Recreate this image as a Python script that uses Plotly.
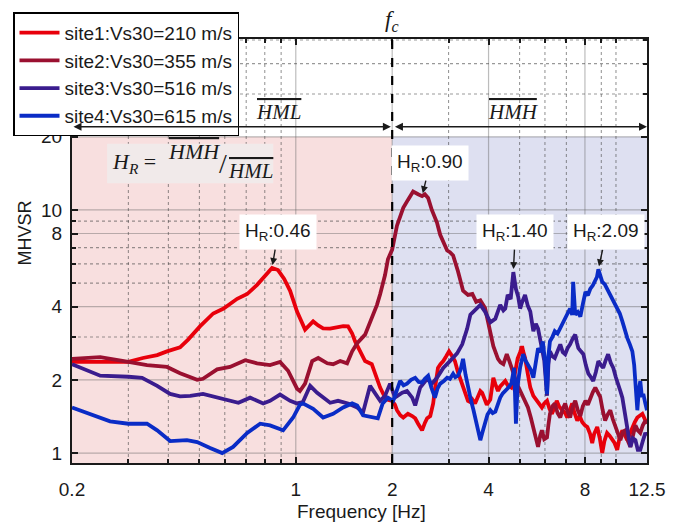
import math
import plotly.graph_objects as go

# Mean H/V spectral ratio curves for four stations
site_names = ["site1:Vs30=210 m/s", "site2:Vs30=355 m/s",
              "site3:Vs30=516 m/s", "site4:Vs30=615 m/s"]
site_colors = ["#E8000B", "#9A1030", "#3A1C8E", "#0A2CC6"]

freq1 = [0.2, 0.245, 0.3, 0.333, 0.369, 0.396, 0.435, 0.461, 0.502, 0.552, 0.595, 0.656,
         0.705, 0.757, 0.813, 0.843, 0.88, 0.92, 0.96, 1.009, 1.069, 1.133, 1.175, 1.217,
         1.28, 1.346, 1.406, 1.456, 1.50, 1.532, 1.59, 1.646, 1.727, 1.78, 1.834, 1.88,
         1.93, 2.0, 2.04, 2.07, 2.12, 2.166, 2.24, 2.31, 2.36, 2.41, 2.48, 2.53, 2.572,
         2.63, 2.686, 2.73, 2.78, 2.83, 2.888, 2.95, 3.01, 3.08, 3.14, 3.21, 3.31, 3.38,
         3.45, 3.51, 3.56, 3.63, 3.70, 3.77, 3.82, 3.90, 3.95, 4.05, 4.10, 4.14, 4.20,
         4.28, 4.35, 4.45, 4.51, 4.59, 4.71, 4.81, 4.87, 4.93, 5.02, 5.09, 5.13, 5.20,
         5.31, 5.40, 5.52, 5.67, 5.78, 5.87, 5.97, 6.09, 6.20, 6.31, 6.44, 6.53, 6.65,
         6.80, 6.94, 7.04, 7.15, 7.30, 7.40, 7.57, 7.70, 7.85, 8.0, 8.14, 8.30, 8.43,
         8.55, 8.74, 8.90, 9.06, 9.20, 9.38, 9.55, 9.74, 9.90, 10.09, 10.25, 10.47,
         10.65, 10.85, 11.05, 11.25, 11.45, 11.66, 11.85, 12.09, 12.3, 12.5]
hv1 = [2.37, 2.36, 2.37, 2.46, 2.53, 2.62, 2.72, 2.93, 3.32, 3.75, 3.93, 4.31,
       4.51, 4.92, 5.45, 5.77, 5.66, 5.2, 4.65, 3.82, 3.22, 3.48, 3.35, 3.26,
       3.25, 3.28, 3.33, 3.32, 3.1, 2.88, 2.6, 2.39, 2.32, 2.05, 1.86, 1.74,
       1.66, 1.64, 1.58, 1.50, 1.43, 1.40, 1.45, 1.42, 1.39, 1.32, 1.24, 1.33, 1.39,
       1.42, 1.60, 1.9, 2.24, 2.32, 2.39, 2.5, 2.62, 2.5, 2.39, 2.15, 1.93, 1.75,
       1.64, 1.62, 1.66, 1.60, 1.7, 1.8, 1.77, 1.62, 1.58, 1.66, 1.9, 2.04, 1.92,
       1.80, 1.88, 1.95, 1.98, 1.9, 1.86, 2.05, 2.24, 2.45, 2.6, 2.75, 2.62, 2.46,
       2.1, 1.86, 1.72, 1.64, 1.58, 1.54, 1.6, 1.64, 1.52, 1.45, 1.55, 1.64, 1.55,
       1.50, 1.46, 1.40, 1.5, 1.60, 1.48, 1.36, 1.42, 1.34, 1.3, 1.28, 1.2, 1.1,
       1.2, 1.28, 1.15, 1.0, 1.12, 1.21, 1.18, 1.13, 1.1, 1.03, 1.15, 1.24,
       1.18, 1.13, 1.2, 1.28, 1.34, 1.40, 1.43, 1.45, 1.38, 1.34]

freq2 = [0.2, 0.245, 0.3, 0.343, 0.396, 0.435, 0.492, 0.513, 0.568, 0.623, 0.695, 0.757,
         0.831, 0.893, 0.946, 1.009, 1.03, 1.069, 1.125, 1.175, 1.254, 1.308, 1.376,
         1.446, 1.50, 1.555, 1.646, 1.727, 1.793, 1.834, 1.90, 1.94, 2.0, 2.07, 2.118,
         2.166, 2.24, 2.325, 2.41, 2.48, 2.53, 2.59, 2.66, 2.76, 2.825, 2.97, 3.03,
         3.10, 3.21, 3.33, 3.45, 3.56, 3.66, 3.77, 3.90, 3.98, 4.05, 4.14, 4.28, 4.36,
         4.45, 4.56, 4.64, 4.71, 4.80, 4.90, 5.02, 5.13, 5.22, 5.31, 5.42, 5.52, 5.62,
         5.71, 5.80, 5.87, 5.97, 6.09, 6.15, 6.22, 6.33, 6.44, 6.57, 6.70, 6.82, 6.94,
         7.06, 7.19, 7.32, 7.46, 7.60, 7.74, 7.88, 8.03, 8.17, 8.31, 8.47, 8.62, 8.77,
         8.93, 9.09, 9.25, 9.42, 9.60, 9.77, 9.95, 10.13, 10.32, 10.51, 10.70, 10.90,
         11.09, 11.30, 11.50, 11.70, 11.91, 12.13, 12.35, 12.5]
hv2 = [2.44, 2.48, 2.37, 2.30, 2.26, 2.13, 2.0, 2.02, 2.21, 2.26, 2.41, 2.34,
       2.30, 2.37, 2.18, 1.84, 1.80, 1.93, 2.39, 2.46, 2.34, 2.32, 2.39,
       2.34, 2.62, 2.83, 3.07, 3.57, 4.07, 4.5, 5.4, 6.27, 6.87, 8.62, 9.4,
       10.2, 11.0, 11.9, 11.6, 11.4, 11.6, 11.2, 10.0, 8.87, 7.9, 6.81, 6.7,
       6.5, 5.6, 4.65, 4.47, 4.51, 4.19, 4.25, 3.95, 3.5, 3.2, 2.75, 2.44, 2.36,
       2.32, 2.55, 2.40, 2.28, 2.10, 1.93, 1.80, 1.69, 1.62, 1.54, 1.40, 1.28, 1.15,
       1.06, 1.18, 1.24, 1.14, 1.16, 1.30, 1.45, 1.56, 1.60, 1.46, 1.40, 1.52, 1.60,
       1.48, 1.40, 1.55, 1.64, 1.50, 1.42, 1.56, 1.64, 1.58, 1.69, 1.78, 1.86, 1.76,
       1.70, 1.50, 1.36, 1.44, 1.50, 1.38, 1.28, 1.20, 1.13, 1.22, 1.24, 1.12,
       1.06, 1.18, 1.30, 1.24, 1.21, 1.30, 1.36, 1.32]

freq3 = [0.2, 0.245, 0.3, 0.331, 0.369, 0.405, 0.435, 0.468, 0.513, 0.568, 0.623, 0.662,
         0.72, 0.791, 0.831, 0.893, 0.96, 1.009, 1.052, 1.109, 1.166, 1.217, 1.28,
         1.355, 1.456, 1.555, 1.622, 1.706, 1.77, 1.834, 1.90, 1.97, 2.04, 2.15, 2.225,
         2.31, 2.36, 2.446, 2.572, 2.66, 2.76, 2.888, 3.03, 3.19, 3.31, 3.43, 3.51,
         3.63, 3.77, 3.90, 4.05, 4.20, 4.35, 4.45, 4.51, 4.59, 4.69, 4.78, 4.87, 4.95,
         5.02, 5.10, 5.20, 5.30, 5.40, 5.52, 5.62, 5.71, 5.80, 5.87, 5.97, 6.09, 6.15,
         6.22, 6.33, 6.44, 6.57, 6.70, 6.82, 6.94, 7.06, 7.19, 7.32, 7.46, 7.55, 7.63,
         7.77, 7.91, 8.05, 8.20, 8.35, 8.49, 8.65, 8.81, 8.97, 9.12, 9.28, 9.45, 9.63,
         9.81, 9.99, 10.17, 10.32, 10.47, 10.66, 10.85, 11.09, 11.30, 11.50, 11.70,
         11.91, 12.13, 12.35, 12.5]
hv3 = [2.32, 2.08, 2.06, 2.04, 1.89, 1.75, 1.71, 1.72, 1.75, 1.69, 1.64, 1.61,
       1.69, 1.60, 1.64, 1.74, 1.64, 1.60, 1.62, 1.89, 1.77, 1.69, 1.61,
       1.64, 1.60, 1.54, 1.47, 1.89, 1.77, 1.64, 1.72, 1.93, 1.69, 1.77, 1.80,
       1.69, 1.57, 1.86, 2.02, 1.93, 2.04, 2.24, 2.39, 2.57, 2.80, 3.25, 3.71,
       3.89, 4.07, 3.82, 3.45, 3.57, 4.07, 3.86, 3.93, 4.47, 4.30, 5.55, 4.73, 4.40,
       3.93, 4.20, 4.47, 4.05, 3.82, 3.17, 3.40, 3.25, 2.90, 2.62, 2.40, 1.72, 2.30,
       2.62, 2.50, 2.46, 2.66, 2.80, 2.60, 2.55, 2.70, 2.80, 2.95, 3.07, 2.85, 2.70,
       2.62, 2.55, 2.30, 2.12, 2.05, 1.98, 2.15, 2.39, 2.30, 2.24, 2.40, 2.55, 2.35,
       2.24, 2.05, 1.93, 1.80, 1.69, 1.45, 1.28, 1.06, 1.15, 1.13, 1.03,
       1.03, 1.12, 1.21, 1.18]

freq4 = [0.2, 0.228, 0.263, 0.30, 0.343, 0.369, 0.405, 0.457, 0.492, 0.540, 0.589,
         0.637, 0.705, 0.774, 0.831, 0.913, 0.981, 1.03, 1.052, 1.133, 1.217, 1.308,
         1.406, 1.50, 1.555, 1.622, 1.727, 1.804, 1.868, 1.94, 2.014, 2.07, 2.118,
         2.17, 2.225, 2.29, 2.36, 2.42, 2.48, 2.53, 2.59, 2.65, 2.72, 2.77, 2.825,
         2.90, 2.97, 3.03, 3.10, 3.15, 3.21, 3.27, 3.33, 3.39, 3.45, 3.52, 3.59, 3.68,
         3.77, 3.83, 3.90, 3.97, 4.05, 4.12, 4.20, 4.27, 4.35, 4.43, 4.51, 4.60, 4.71,
         4.78, 4.81, 4.87, 4.93, 5.02, 5.13, 5.22, 5.31, 5.42, 5.52, 5.62, 5.71, 5.81,
         5.91, 6.00, 6.09, 6.15, 6.22, 6.33, 6.44, 6.57, 6.70, 6.82, 6.94, 7.06, 7.19,
         7.30, 7.35, 7.40, 7.46, 7.60, 7.74, 7.88, 8.03, 8.17, 8.31, 8.47, 8.62, 8.72,
         8.81, 8.93, 9.06, 9.22, 9.38, 9.56, 9.74, 9.90, 10.09, 10.28, 10.47, 10.66,
         10.85, 11.05, 11.25, 11.40, 11.50, 11.58, 11.66, 11.78, 11.91, 12.05, 12.17,
         12.35, 12.5]
hv4 = [1.54, 1.45, 1.35, 1.32, 1.32, 1.24, 1.12, 1.13, 1.11, 1.05, 1.0,
       1.06, 1.21, 1.32, 1.30, 1.24, 1.40, 1.58, 1.60, 1.52, 1.40, 1.45,
       1.54, 1.60, 1.57, 1.43, 1.40, 1.39, 1.60, 1.69, 1.64, 1.82, 1.98,
       1.90, 1.93, 2.00, 2.04, 1.96, 1.95, 2.02, 2.08, 1.86, 1.69, 1.84, 1.93,
       1.98, 2.04, 2.02, 2.12, 2.05, 2.08, 2.20, 2.44, 2.10, 1.86, 1.66, 1.50, 1.28,
       1.13, 1.22, 1.32, 1.44, 1.50, 1.46, 1.48, 1.60, 1.69, 1.76, 1.80, 1.85, 1.93,
       2.10, 2.24, 1.32, 1.90, 2.25, 2.55, 2.40, 2.32, 2.20, 2.04, 2.40, 2.70, 2.60,
       2.88, 2.40, 1.75, 2.50, 2.88, 3.00, 3.17, 3.10, 3.25, 3.40, 3.57, 3.75, 3.93,
       3.70, 5.06, 3.90, 3.71, 3.80, 3.64, 4.10, 4.60, 4.45, 4.73, 4.90, 5.20, 5.30,
       5.70, 5.30, 5.06, 4.95, 4.73, 4.55, 4.31, 4.10, 3.93, 3.75, 3.48, 3.20,
       2.97, 2.80, 2.62, 2.30, 1.98, 1.70, 1.50, 1.80, 1.98, 1.70, 1.75,
       1.60, 1.50]

site_freqs = [freq1, freq2, freq3, freq4]
site_hv = [hv1, hv2, hv3, hv4]

# Peak labels: (peak frequency, peak MHVSR, ratio text, box offset px)
peak_labels = [
    (0.843, 5.77, "0.46", 6, -36),
    (2.48, 11.4, "0.90", 8, -33),
    (4.78, 5.55, "1.40", 2, -40),
    (8.81, 5.70, "2.09", 8, -37),
]

f_min, f_max = 0.2, 12.5
f_c = 2.0
y_min, y_max = 0.91, 50.5
band_top = 20
x_ticks = [0.2, 1, 2, 4, 8, 12.5]
x_minor = [0.3, 0.4, 0.5, 0.6, 0.7, 0.8, 0.9, 3, 5, 6, 7, 9, 10]
y_ticks = [1, 2, 4, 8, 10, 20]
y_minor = [3, 5, 6, 7, 9, 30, 40, 50]

L = math.log10
font_sans = "Liberation Sans, Arial, sans-serif"
font_serif = "Liberation Serif, DejaVu Serif, serif"
ink = "#1a1a1a"

fig = go.Figure()


def grid_trace(xs, ys, color, dash, width):
    return go.Scatter(x=xs, y=ys, mode="lines", showlegend=False, hoverinfo="skip",
                      line=dict(color=color, width=width, dash=dash))


def vlines(vals):
    xs, ys = [], []
    for v in vals:
        xs += [v, v, None]
        ys += [y_min, y_max, None]
    return xs, ys


def hlines(vals):
    xs, ys = [], []
    for v in vals:
        xs += [f_min, f_max, None]
        ys += [v, v, None]
    return xs, ys


# grid (line traces so it sits over the band shading, under the curves)
major_col = "rgba(95,95,95,0.42)"
minor_col = "rgba(70,70,70,0.55)"
fig.add_trace(grid_trace(*vlines(x_ticks[1:-1]), major_col, "solid", 1.2))
fig.add_trace(grid_trace(*hlines(y_ticks), major_col, "solid", 1.2))
fig.add_trace(grid_trace(*vlines(x_minor), minor_col, "dot", 1.1))
fig.add_trace(grid_trace(*hlines(y_minor), minor_col, "dot", 1.1))

for name, col, fr, hv in zip(site_names, site_colors, site_freqs, site_hv):
    fig.add_trace(go.Scatter(x=fr, y=hv, mode="lines", name=name,
                             line=dict(color=col, width=3.8)))

# shaded low / high frequency bands
fig.add_shape(type="rect", xref="x", yref="y", x0=f_min, x1=f_c, y0=y_min, y1=band_top,
              fillcolor="rgb(248,223,223)", line_width=0, layer="below")
fig.add_shape(type="rect", xref="x", yref="y", x0=f_c, x1=f_max, y0=y_min, y1=band_top,
              fillcolor="rgb(222,224,241)", line_width=0, layer="below")
# formula backdrop
fig.add_shape(type="rect", xref="paper", yref="paper", x0=0.061, x1=0.350,
              y0=0.660, y1=0.753, fillcolor="rgb(241,234,234)", line_width=0, layer="above")
# corner-frequency divider
fig.add_shape(type="line", xref="x", yref="paper", x0=f_c, x1=f_c, y0=0, y1=1,
              line=dict(color="black", width=2.2, dash="dash"), layer="above")

ann = []
# band arrows
arrow_y = L(22)
ann.append(dict(x=L(f_c) - 0.004, y=arrow_y, ax=L(f_min), ay=arrow_y, xref="x", yref="y",
                axref="x", ayref="y", text="", showarrow=True, arrowhead=2, startarrowhead=2,
                arrowside="end+start", arrowsize=1, arrowwidth=1.6, arrowcolor=ink))
ann.append(dict(x=L(f_max), y=arrow_y, ax=L(f_c) + 0.004, ay=arrow_y, xref="x", yref="y",
                axref="x", ayref="y", text="", showarrow=True, arrowhead=2, startarrowhead=2,
                arrowside="end+start", arrowsize=1, arrowwidth=1.6, arrowcolor=ink))
ov = "<span style='text-decoration:overline'><i>{}</i></span>"
ann.append(dict(x=L(0.88), y=L(25.3), xref="x", yref="y", text=ov.format("HML"),
                yanchor="middle", showarrow=False,
                font=dict(family=font_serif, size=21, color=ink)))
ann.append(dict(x=L(4.78), y=L(25.3), xref="x", yref="y", text=ov.format("HMH"),
                yanchor="middle", showarrow=False,
                font=dict(family=font_serif, size=21, color=ink)))
ann.append(dict(x=L(f_c), y=1.042, xref="x", yref="paper", text="<i>f</i><sub><i>c</i></sub>",
                yanchor="middle", showarrow=False,
                font=dict(family=font_serif, size=23, color=ink)))

# formula H_R = HMH / HML
ann.append(dict(x=0.066, y=0.707, xref="paper", yref="paper", xanchor="left", yanchor="middle",
                text="<i>H</i><sub><i>R</i></sub> =", showarrow=False,
                font=dict(family=font_serif, size=22, color=ink)))
ann.append(dict(x=0.163, y=0.735, xref="paper", yref="paper", xanchor="left", yanchor="middle",
                text=ov.format("HMH"), showarrow=False,
                font=dict(family=font_serif, size=22, color=ink)))
ann.append(dict(x=0.253, y=0.707, xref="paper", yref="paper", xanchor="left", yanchor="middle",
                text="/", showarrow=False, font=dict(family=font_serif, size=28, color=ink)))
ann.append(dict(x=0.268, y=0.688, xref="paper", yref="paper", xanchor="left", yanchor="middle",
                text=ov.format("HML"), showarrow=False,
                font=dict(family=font_serif, size=21, color=ink)))

for fpk, vpk, txt, dx, dy in peak_labels:
    ann.append(dict(x=L(fpk), y=L(vpk), xref="x", yref="y",
                    text="H<sub>R</sub>:" + txt, showarrow=True, ax=dx, ay=dy,
                    arrowhead=2, arrowsize=1, arrowwidth=1.4, arrowcolor=ink, standoff=3,
                    bgcolor="white", borderpad=5,
                    font=dict(family=font_sans, size=19, color=ink)))

# axis titles
ann.append(dict(x=0.503, y=-0.114, xref="paper", yref="paper", text="Frequency [Hz]",
                xanchor="center", yanchor="middle", showarrow=False,
                font=dict(family=font_sans, size=19, color=ink)))
ann.append(dict(x=-0.082, y=0.543, xref="paper", yref="paper", text="MHVSR", textangle=-90,
                xanchor="center", yanchor="middle", showarrow=False,
                font=dict(family=font_sans, size=18, color=ink)))

axis_common = dict(showline=True, linecolor=ink, linewidth=2, mirror="ticks",
                   ticks="inside", ticklen=6, tickwidth=1.5, tickcolor=ink,
                   showgrid=False, zeroline=False,
                   tickfont=dict(family=font_sans, size=19, color=ink))
minor_common = dict(ticks="inside", ticklen=4, tickcolor=ink, showgrid=False)

fig.update_xaxes(type="log", range=[L(f_min), L(f_max)], tickmode="array", tickvals=x_ticks,
                 ticktext=[str(v) for v in x_ticks], ticklabelstandoff=8,
                 minor=dict(tickvals=x_minor, **minor_common), **axis_common)
fig.update_yaxes(type="log", range=[L(y_min), L(y_max)], tickmode="array", tickvals=y_ticks,
                 ticktext=[str(v) for v in y_ticks], ticklabelstandoff=4,
                 minor=dict(tickvals=y_minor, **minor_common), **axis_common)

fig.update_layout(
    width=697, height=530,
    margin=dict(l=72, r=50, t=34, b=67),
    paper_bgcolor="white", plot_bgcolor="white",
    annotations=ann,
    showlegend=True,
    legend=dict(x=-0.1026, y=1.063, xanchor="left", yanchor="top",
                bgcolor="white", bordercolor="black", borderwidth=1.5,
                font=dict(family=font_sans, size=19, color=ink),
                itemwidth=40, tracegroupgap=0),
)

fig.write_html("out.html")
